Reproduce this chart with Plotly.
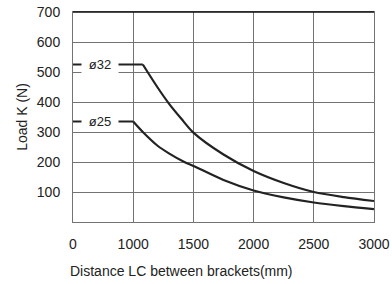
import plotly.graph_objects as go

# Data (distance in mm, load in N)
d32 = [1080, 1200, 1300, 1400, 1500, 1750, 2000, 2250, 2500, 2750, 3000]
k32 = [525, 450, 393, 344, 298, 225, 170, 130, 100, 83, 70]
d25 = [1000, 1080, 1200, 1300, 1425, 1500, 1750, 2000, 2250, 2500, 2750, 3000]
k25 = [335, 300, 255, 228, 200, 187, 140, 105, 82, 65, 53, 43]
x_ticks = [0, 1000, 1500, 2000, 2500, 3000]
y_ticks = [100, 200, 300, 400, 500, 600, 700]
labels = ["ø32", "ø25"]

def ax(d):
    # broken axis: 0-1000 compressed to the width of 500
    return 500 + d / 2 if d <= 1000 else d

line_col = "#222222"
fig = go.Figure()
for lab, ds, ks in [(labels[0], d32, k32), (labels[1], d25, k25)]:
    # leader line from the axis to the start of the curve
    fig.add_trace(go.Scatter(x=[ax(0), ax(ds[0])], y=[ks[0], ks[0]], mode="lines",
                             line=dict(color=line_col, width=2.2),
                             showlegend=False, hoverinfo="skip"))
    fig.add_trace(go.Scatter(x=[ax(v) for v in ds], y=ks, mode="lines",
                             line=dict(color=line_col, width=2.2, shape="spline", smoothing=0.8),
                             showlegend=False, hoverinfo="skip"))
    fig.add_annotation(x=ax(450), y=ks[0], text=lab, showarrow=False,
                       bgcolor="white", font=dict(size=13, color="#222"),
                       width=34, borderpad=1)

font = dict(family="Liberation Sans, Arial, sans-serif", size=14, color="#222")
grid = "#737373"
fig.update_layout(
    width=392, height=284,
    margin=dict(l=73.3, r=17.7, t=11.5, b=62, autoexpand=False),
    plot_bgcolor="white", paper_bgcolor="white",
    font=font,
    xaxis=dict(range=[ax(0), 3000], tickvals=[ax(v) for v in x_ticks],
               ticktext=[str(v) for v in x_ticks], showgrid=True, gridcolor=grid,
               gridwidth=1, showline=True, linecolor=grid, mirror=True, zeroline=False,
               ticks="", ticklabelstandoff=9, fixedrange=True, automargin=False,
               ticklabeloverflow="allow"),
    yaxis=dict(range=[0, 700], tickvals=y_ticks, showgrid=True, gridcolor=grid,
               gridwidth=1, showline=True, linecolor=grid, mirror=True, zeroline=False,
               ticks="", ticklabelstandoff=9, fixedrange=True, automargin=False,
               ticklabeloverflow="allow"),
)
fig.add_shape(type="line", xref="paper", yref="paper", x0=0, x1=1, y0=1, y1=1,
              line=dict(color="#111", width=1.5))
fig.add_annotation(xref="paper", yref="paper", x=-0.016, y=-0.233, xanchor="left",
                   yanchor="middle", text="Distance LC between brackets(mm)",
                   showarrow=False, font=dict(size=14, color="#222"))
fig.add_annotation(xref="paper", yref="paper", x=-0.17, y=0.5, textangle=-90,
                   xanchor="center", yanchor="middle", text="Load K (N)",
                   showarrow=False, font=dict(size=14, color="#222"))
fig.write_html("out.html", config={"displayModeBar": False},
               post_script="document.body.style.margin='0';")
